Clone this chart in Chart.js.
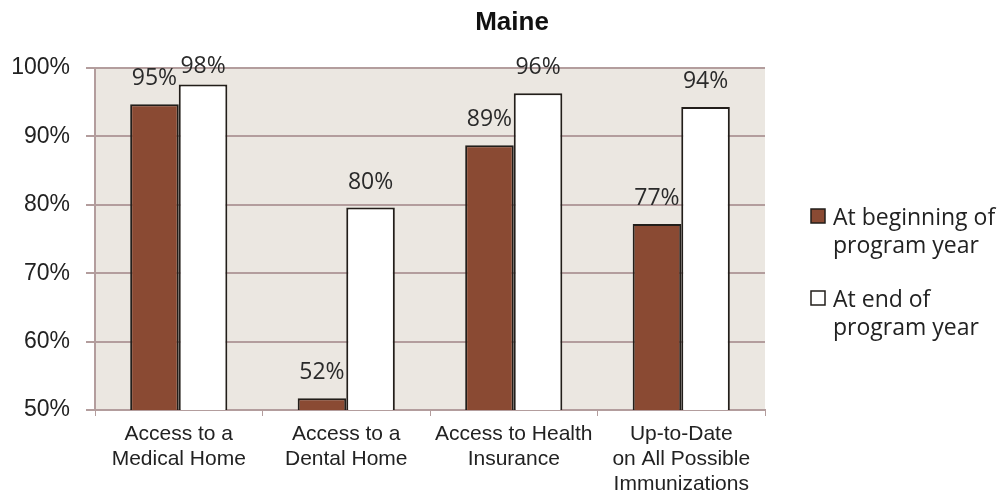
<!DOCTYPE html>
<html>
<head>
<meta charset="utf-8">
<script src="https://cdn.jsdelivr.net/npm/chart.js@4"></script>
<style>
  html, body { margin:0; padding:0; background:#fff; }
  #wrap { width:1001px; height:494px; position:relative; }
</style>
</head>
<body>
<div id="wrap"><canvas id="grafica"></canvas></div>
<script>
// Datos
const categorias = [
  ['Access to a', 'Medical Home'],
  ['Access to a', 'Dental Home'],
  ['Access to Health', 'Insurance'],
  ['Up-to-Date', 'on All Possible', 'Immunizations']
];
const valoresInicio = [94.7, 51.7, 88.7, 77.2];
const valoresFin = [97.6, 79.6, 96.3, 94.3];
const etiquetasInicio = ['95%', '52%', '89%', '77%'];
const etiquetasFin = ['98%', '80%', '96%', '94%'];
const nombresSeries = [['At beginning of', 'program year'], ['At end of', 'program year']];
const titulo = 'Maine';

const colorCafe = '#8a4a33';
const colorBorde = '#221e1a';
const colorGrid = '#b39d9d';
const fondoPlot = '#ebe7e1';

// Plugin: fondo del area, titulo, etiquetas de valores y leyenda
const extras = {
  id: 'extras',
  beforeDraw(chart){
    const {ctx, chartArea:a} = chart;
    ctx.save();
    ctx.fillStyle = fondoPlot;
    ctx.fillRect(a.left, a.top, a.right - a.left, a.bottom - a.top);
    ctx.restore();
  },
  afterDatasetsDraw(chart){
    const ctx = chart.ctx;
    ctx.save();
    // etiquetas sobre las barras (no se salen por arriba)
    ctx.font = '23px "Open Sans", sans-serif';
    ctx.fillStyle = '#2a2a2a';
    ctx.textAlign = 'center';
    ctx.textBaseline = 'alphabetic';
    [etiquetasInicio, etiquetasFin].forEach((labs, di) => {
      chart.getDatasetMeta(di).data.forEach((bar, i) => {
        ctx.fillText(labs[i], bar.x, Math.max(bar.y - 19, chart.chartArea.top + 5));
      });
    });
    // titulo
    ctx.font = 'bold 26px "Liberation Sans", Arial, sans-serif';
    ctx.fillStyle = '#111';
    ctx.textBaseline = 'middle';
    ctx.fillText(titulo, 512, 23);
    // leyenda
    ctx.textAlign = 'left';
    ctx.textBaseline = 'alphabetic';
    ctx.font = '23px "Open Sans", sans-serif';
    const ys = [225, 307];
    const fills = [colorCafe, '#fff'];
    ys.forEach((y, k) => {
      ctx.fillStyle = fills[k];
      ctx.fillRect(811, y - 16, 14, 14);
      ctx.strokeStyle = colorBorde;
      ctx.lineWidth = 1.5;
      ctx.strokeRect(811, y - 16, 14, 14);
      ctx.fillStyle = '#222';
      nombresSeries[k].forEach((t, j) => ctx.fillText(t, 833, y + j * 28));
    });
    ctx.restore();
  }
};

new Chart(document.getElementById('grafica'), {
  type: 'bar',
  data: {
    labels: categorias,
    datasets: [
      { label: 'At beginning of program year', data: valoresInicio, backgroundColor: colorCafe, borderColor: colorBorde, borderWidth: 2, borderSkipped: 'bottom' },
      { label: 'At end of program year', data: valoresFin, backgroundColor: '#fff', borderColor: colorBorde, borderWidth: 2, borderSkipped: 'bottom' }
    ]
  },
  options: {
    responsive: true,
    maintainAspectRatio: false,
    animation: false,
    categoryPercentage: 0.58,
    barPercentage: 1,
    layout: { padding: { top: 68, right: 236, left: 0, bottom: 0 } },
    plugins: { legend: { display: false }, title: { display: false }, tooltip: { enabled: false } },
    scales: {
      x: {
        grid: { drawOnChartArea: false, color: colorGrid, tickLength: 6, offset: true },
        border: { color: colorGrid, width: 2 },
        ticks: { color: '#222', font: { family: '"Liberation Sans", Arial, sans-serif', size: 21, lineHeight: 1.18 }, maxRotation: 0, autoSkip: false, padding: 6 },
        afterFit: s => { s.height = 84; }
      },
      y: {
        min: 50, max: 100,
        ticks: { stepSize: 10, color: '#222', padding: 16, font: { family: '"Liberation Sans", Arial, sans-serif', size: 23 }, callback: v => v + '%' },
        grid: { color: colorGrid, lineWidth: 2, tickLength: 9 },
        border: { color: colorGrid, width: 2 },
        afterFit: s => { s.width = 95; }
      }
    }
  },
  plugins: [extras]
});
</script>
</body>
</html>
